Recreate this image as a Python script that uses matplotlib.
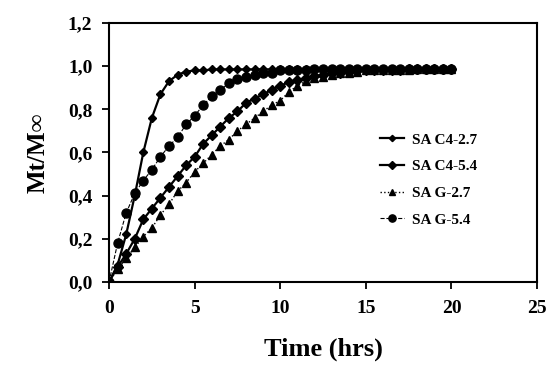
import matplotlib
matplotlib.use("Agg")
import matplotlib.pyplot as plt
import numpy as np

time_hrs = [i * 0.5 for i in range(41)]

sa_c4_27 = [0.0, 0.08, 0.22, 0.40, 0.60, 0.76, 0.87, 0.93, 0.96, 0.975, 0.98,
            0.98, 0.985, 0.985, 0.985, 0.985, 0.985, 0.985, 0.985, 0.985, 0.985,
            0.985, 0.985, 0.985, 0.985, 0.985, 0.985, 0.985, 0.985, 0.985, 0.985,
            0.985, 0.985, 0.985, 0.985, 0.985, 0.985, 0.985, 0.985, 0.985, 0.985]
sa_c4_54 = [0.0, 0.07, 0.13, 0.20, 0.29, 0.34, 0.39, 0.44, 0.49, 0.54, 0.58,
            0.64, 0.68, 0.72, 0.76, 0.79, 0.83, 0.85, 0.87, 0.89, 0.91,
            0.925, 0.935, 0.945, 0.955, 0.96, 0.97, 0.97, 0.975, 0.98, 0.98,
            0.98, 0.98, 0.98, 0.98, 0.985, 0.985, 0.985, 0.985, 0.985, 0.985]
sa_g_27 = [0.0, 0.06, 0.11, 0.16, 0.21, 0.25, 0.31, 0.36, 0.42, 0.46, 0.51,
           0.55, 0.59, 0.63, 0.66, 0.70, 0.73, 0.76, 0.79, 0.82, 0.84,
           0.88, 0.91, 0.93, 0.945, 0.95, 0.96, 0.97, 0.97, 0.975, 0.98,
           0.98, 0.98, 0.98, 0.98, 0.98, 0.985, 0.985, 0.985, 0.985, 0.985]
sa_g_54 = [0.0, 0.18, 0.32, 0.41, 0.47, 0.52, 0.58, 0.63, 0.67, 0.73, 0.77,
           0.82, 0.86, 0.89, 0.92, 0.94, 0.95, 0.96, 0.97, 0.97, 0.98,
           0.98, 0.98, 0.98, 0.985, 0.985, 0.985, 0.985, 0.985, 0.985, 0.985,
           0.985, 0.985, 0.985, 0.985, 0.985, 0.985, 0.985, 0.985, 0.985, 0.985]

labels = ["SA C4-2.7", "SA C4-5.4", "SA G-2.7", "SA G-5.4"]
x_ticks = [0, 5, 10, 15, 20, 25]
y_ticks = [0.0, 0.2, 0.4, 0.6, 0.8, 1.0, 1.2]

serif = ["Liberation Serif", "DejaVu Serif"]

fig = plt.figure(figsize=(5.48, 3.71), dpi=100)
ax = fig.add_axes([0.199, 0.24, 0.781, 0.698])

ax.plot(time_hrs, sa_c4_27, '-', color='black', lw=1.6, marker='D', ms=4, label=labels[0])
ax.plot(time_hrs, sa_c4_54, '-', color='black', lw=1.6, marker='D', ms=5, label=labels[1])
ax.plot(time_hrs, sa_g_27, ':', color='black', lw=1.0, marker='^', ms=5.5, label=labels[2])
ax.plot(time_hrs, sa_g_54, '--', color='black', lw=0.8, marker='o', ms=6.5, label=labels[3])

ax.set_xlim(0, 25)
ax.set_ylim(0, 1.2)
ax.set_xticks(x_ticks)
ax.set_yticks(y_ticks)
ax.set_xticklabels([str(v) for v in x_ticks], fontfamily=serif, fontweight='bold', fontsize=14)
ax.set_yticklabels([f"{v:.1f}".replace('.', ',') for v in y_ticks], fontfamily=serif, fontweight='bold', fontsize=14)
ax.tick_params(direction='out', length=5, width=1.3)
ax.tick_params(axis='x', pad=8)
ax.tick_params(axis='y', pad=7)
for s in ax.spines.values():
    s.set_linewidth(1.5)

ax.set_xlabel("Time (hrs)", fontfamily=serif, fontweight='bold', fontsize=19)
ax.set_ylabel("Mt/M∞", fontfamily=serif, fontweight='bold', fontsize=18)
ax.xaxis.set_label_coords(0.5, -0.215)
ax.yaxis.set_label_coords(-0.14, 0.5)

leg = ax.legend(loc='center left', bbox_to_anchor=(0.6, 0.394), frameon=False,
                prop={'family': serif, 'weight': 'bold', 'size': 11},
                handlelength=1.6, handletextpad=0.5, labelspacing=0.85, markerscale=0.8)

fig.savefig("out.png", dpi=100)
